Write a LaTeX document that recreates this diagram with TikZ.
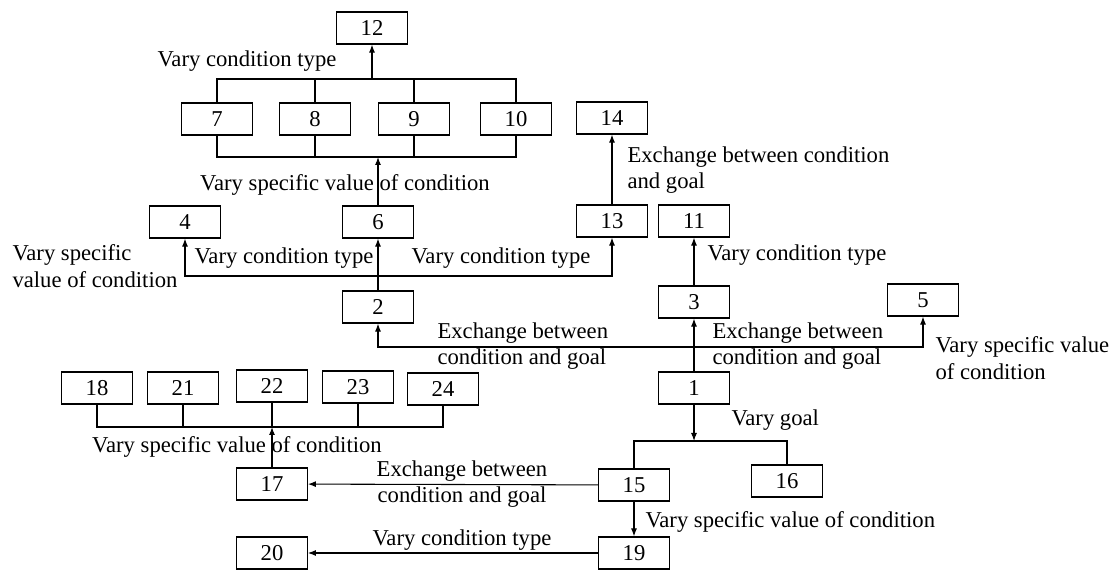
\documentclass[tikz,border=0pt]{standalone}
\usepackage{fontspec}
\setmainfont{Liberation Serif}
\usetikzlibrary{arrows.meta}

\begin{document}
\begin{tikzpicture}[x=0.75pt,y=-0.75pt,
    box/.style={draw,line width=0.9pt,minimum width=53pt,minimum height=24pt,inner sep=0pt},
    lbl/.style={inner sep=0pt,font=\fontsize{17}{20}\selectfont},
    arr/.style={-{Latex[length=6pt,width=4.5pt]}},
    every path/.style={line width=0.8pt}]

  \useasboundingbox (0,0) rectangle (1115,570);

  % Nodes
  \begin{scope}[every node/.style={box,font=\fontsize{17}{20}\selectfont}]
    \node (n12) at (372,28) {12};

    \node (n7) at (217,119) {7};
    \node (n8) at (315,119) {8};
    \node (n9) at (414,119) {9};
    \node (n10) at (516,119) {10};

    \node (n4) at (185,222) {4};
    \node (n6) at (378,222) {6};
    \node (n13) at (612,221) {13};
    \node (n14) at (612,118) {14};
    \node (n11) at (694,221) {11};

    \node (n2) at (378,307) {2};
    \node (n3) at (694,302) {3};
    \node (n5) at (923,300) {5};
    \node (n1) at (694,388) {1};

    \node (n18) at (97,388) {18};
    \node (n21) at (183,388) {21};
    \node (n22) at (272,386) {22};
    \node (n23) at (358,387) {23};
    \node (n24) at (443,389) {24};

    \node (n17) at (272,484) {17};
    \node (n15) at (634,485) {15};
    \node (n16) at (787,481) {16};
    \node (n20) at (272,553) {20};
    \node (n19) at (634,553) {19};
  \end{scope}

  % Junctions
  \coordinate (topbus) at (372,79);
  \coordinate (botbus) at (378,157);
  \coordinate (fork2) at (378,276);
  \coordinate (fork1) at (694,347);
  \coordinate (goalbus) at (694,441);
  \coordinate (valbus) at (272,427);

  % Edges
  \draw (n7.north) |- (topbus) -| (n10.north);
  \draw (n8.north) -- (n8.north |- topbus);
  \draw (n9.north) -- (n9.north |- topbus);
  \draw[arr] (topbus) -- (n12);

  \draw (n7.south) |- (botbus) -| (n10.south);
  \draw (n8.south) -- (n8.south |- botbus);
  \draw (n9.south) -- (n9.south |- botbus);
  \draw[arr] (n6) -- (botbus);

  \draw[arr] (n2) -- (n6);
  \draw[arr] (fork2) -| (n4);
  \draw[arr] (fork2) -| (n13);
  \draw[arr] (n13) -- (n14);
  \draw[arr] (n3) -- (n11);

  \draw[arr] (n1) -- (n3);
  \draw[arr] (fork1) -| (n2);
  \draw[arr] (fork1) -| (n5);

  \draw[arr] (n1) -- (goalbus);
  \draw (n15.north) |- (goalbus) -| (n16.north);

  \draw[arr] (n15) -- (n17);
  \draw[arr] (n15) -- (n19);
  \draw[arr] (n19) -- (n20);

  \draw[arr] (n17) -- (valbus);
  \draw (n18.south) |- (valbus) -| (n24.south);
  \draw (n21.south) -- (n21.south |- valbus);
  \draw (n22.south) -- (valbus);
  \draw (n23.south) -- (n23.south |- valbus);

  % Labels
  \begin{scope}[every node/.style={lbl}]
    \node (l12) at (247,61) {Vary condition type};
    \node (l6) at (345,185) {Vary specific value of condition};
    \node[anchor=west,align=left] (l4) at (12,266) {Vary specific\\value of condition};
    \node (l4a) at (284,258) {Vary condition type};
    \node (l13) at (501,258) {Vary condition type};
    \node[anchor=west,align=left] (l14) at (627,170) {Exchange between condition\\and goal};
    \node[anchor=west] (l11) at (707,255) {Vary condition type};
    \node[anchor=west,align=left] (l2) at (437,346) {Exchange between\\condition and goal};
    \node[anchor=west,align=left] (l3) at (712,346) {Exchange between\\condition and goal};
    \node[anchor=west,align=left] (l5) at (935,358) {Vary specific value\\of condition};
    \node[anchor=west] (l16) at (731,420) {Vary goal};
    \node (l17a) at (237,447) {Vary specific value of condition};
    \node[align=center] (l17) at (462,484) {Exchange between\\condition and goal};
    \node[anchor=west] (l19) at (645,522) {Vary specific value of condition};
    \node (l20) at (462,540) {Vary condition type};
  \end{scope}

\end{tikzpicture}
\end{document}
